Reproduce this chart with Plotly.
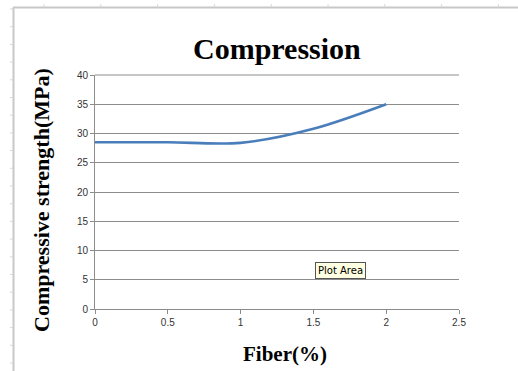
import plotly.graph_objects as go

# Data
fiber_pct = [0, 0.5, 1.0, 1.5, 2.0]
strength_mpa = [28.5, 28.5, 28.4, 30.8, 35.0]

title_text = "Compression"
x_title = "Fiber(%)"
y_title = "Compressive strength(MPa)"
x_ticks = [0, 0.5, 1, 1.5, 2, 2.5]
x_ticklabels = ["0", "0.5", "1", "1.5", "2", "2.5"]
y_ticks = [0, 5, 10, 15, 20, 25, 30, 35, 40]

W, H = 518, 371
L, R, T, B = 95, 59, 75, 62
pw, ph = W - L - R, H - T - B
grid_col = "#8c8c8c"

def px(x):
    return (x - L) / pw

def py(y):
    return (H - B - y) / ph

fig = go.Figure()
fig.add_trace(go.Scatter(
    x=fiber_pct, y=strength_mpa, mode="lines",
    line=dict(color="#4a7ebb", width=2.6, shape="spline", smoothing=0.9),
    showlegend=False, hoverinfo="skip"))

shapes = []
frame_col = "#c8c8c8"
# top border gridline of the plot area (value-axis maximum)
shapes.append(dict(type="line", xref="paper", yref="paper", layer="below",
                   x0=0, x1=1, y0=1, y1=1,
                   line=dict(color=grid_col, width=1)))
# Excel sheet frame (outside the chart)
shapes.append(dict(type="line", xref="paper", yref="paper",
                   x0=px(13.5), x1=px(13.5), y0=py(7.5), y1=py(371),
                   line=dict(color=frame_col, width=2)))
shapes.append(dict(type="line", xref="paper", yref="paper",
                   x0=px(13), x1=px(518), y0=py(7.5), y1=py(7.5),
                   line=dict(color=frame_col, width=2)))
for i in range(21):
    yy = 9 + i * 17.7
    if yy > 370:
        break
    shapes.append(dict(type="line", xref="paper", yref="paper",
                       x0=px(10), x1=px(13), y0=py(yy), y1=py(yy),
                       line=dict(color="#d8d8d8", width=1)))
for i in range(10):
    xx = 44 + i * 56.8
    if xx > 517:
        break
    shapes.append(dict(type="line", xref="paper", yref="paper",
                       x0=px(xx), x1=px(xx), y0=py(4), y1=py(7),
                       line=dict(color="#d8d8d8", width=1)))

annotations = [
    dict(text=title_text, xref="paper", yref="paper", x=0.5, y=py(49),
         xanchor="center", yanchor="middle", showarrow=False,
         font=dict(family="Liberation Serif", size=30, color="#000000", weight="bold")),
    dict(text=y_title, xref="paper", yref="paper", x=px(41), y=py(200),
         xanchor="center", yanchor="middle", showarrow=False, textangle=-90,
         font=dict(family="Liberation Serif", size=22, color="#000000", weight="bold")),
    dict(text=x_title, xref="paper", yref="paper", x=px(285), y=py(354),
         xanchor="center", yanchor="middle", showarrow=False,
         font=dict(family="Liberation Serif", size=21, color="#000000", weight="bold")),
    dict(text="Plot Area", xref="paper", yref="paper", x=px(340.5), y=py(270),
         xanchor="center", yanchor="middle", showarrow=False,
         bgcolor="#ffffe1", bordercolor="#555555", borderwidth=1, borderpad=2,
         font=dict(family="DejaVu Sans", size=10, color="#000000")),
]

fig.update_layout(
    width=W, height=H,
    margin=dict(l=L, r=R, t=T, b=B),
    paper_bgcolor="white", plot_bgcolor="white",
    shapes=shapes, annotations=annotations,
    xaxis=dict(range=[0, 2.5], tickvals=x_ticks, ticktext=x_ticklabels,
               showgrid=False, zeroline=False, showline=True,
               linecolor=grid_col, linewidth=1, ticks="outside", ticklen=4,
               tickcolor=grid_col,
               tickfont=dict(family="Liberation Sans", size=10, color="#333333")),
    yaxis=dict(range=[0, 40], tickvals=y_ticks, showgrid=True,
               gridcolor=grid_col, gridwidth=1, zeroline=False, showline=True,
               linecolor=grid_col, linewidth=1, ticks="outside", ticklen=4,
               tickcolor=grid_col,
               tickfont=dict(family="Liberation Sans", size=10, color="#333333")),
)

fig.write_html("out.html")
